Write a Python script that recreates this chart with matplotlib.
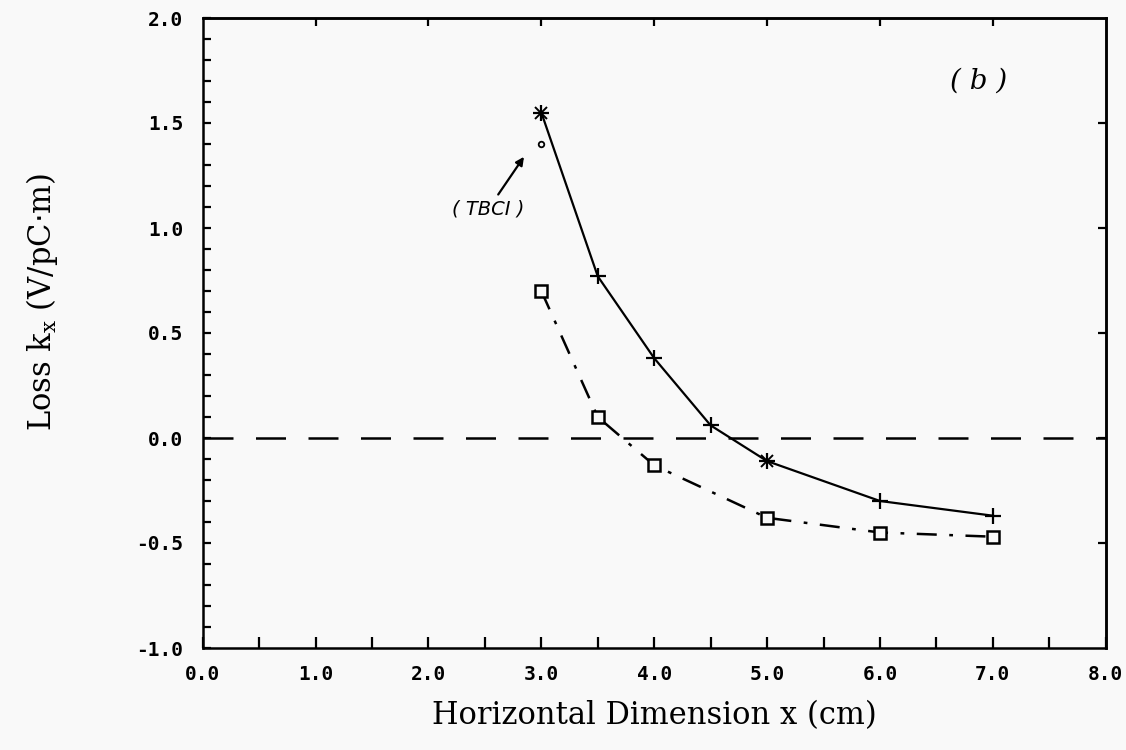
import matplotlib
matplotlib.use("Agg")
import matplotlib.pyplot as plt
import numpy as np

# loss curves
x_solid = [3.0, 3.5, 4.0, 4.5, 5.0, 6.0, 7.0]
y_solid = [1.55, 0.77, 0.38, 0.06, -0.11, -0.30, -0.37]
star_x = [3.0, 5.0]
star_y = [1.55, -0.11]

x_dd = [3.0, 3.5, 4.0, 5.0, 6.0, 7.0]
y_dd = [0.70, 0.10, -0.13, -0.38, -0.45, -0.47]

tbci_x = [3.0]
tbci_y = [1.40]

x_ticks = [0.0, 1.0, 2.0, 3.0, 4.0, 5.0, 6.0, 7.0, 8.0]
y_ticks = [-1.0, -0.5, 0.0, 0.5, 1.0, 1.5, 2.0]

bg = "#f9f9f9"
fig = plt.figure(figsize=(11.26, 7.5), dpi=100, facecolor=bg)
ax = fig.add_axes([0.180, 0.136, 0.802, 0.840], facecolor=bg)

ax.axhline(0.0, color="black", lw=1.8, linestyle=(0, (12, 9)))

ax.plot(x_solid, y_solid, color="black", lw=1.6, marker="+", ms=11, mew=1.6)
ax.plot(star_x, star_y, linestyle="none", color="black", marker="x", ms=8, mew=1.4)

ax.plot(x_dd, y_dd, color="black", lw=1.8, linestyle=(0, (8, 5, 1.5, 5)),
        marker="s", ms=9, mfc=bg, mec="black", mew=1.8)

ax.plot(tbci_x, tbci_y, linestyle="none", marker="o", ms=4, mfc=bg, mec="black", mew=1.3)
ax.annotate("( TBCI )", xy=(2.86, 1.35), xytext=(2.53, 1.09),
            ha="center", va="center", fontsize=14, style="italic", family="DejaVu Sans",
            arrowprops=dict(arrowstyle="-|>", color="black", lw=1.6, mutation_scale=12))

ax.text(6.87, 1.70, "( b )", fontsize=20, style="italic", family="DejaVu Serif",
        ha="center", va="center")

ax.set_xlim(0, 8)
ax.set_ylim(-1, 2)
ax.set_xticks(x_ticks)
ax.set_xticklabels([f"{v:.1f}" for v in x_ticks])
ax.set_yticks(y_ticks)
ax.set_yticklabels([f"{v:.1f}" for v in y_ticks])
ax.set_xticks(np.arange(0.5, 8, 1.0), minor=True)
ax.set_yticks(np.arange(-1.0, 2.0, 0.1), minor=True)

for lab in ax.get_xticklabels() + ax.get_yticklabels():
    lab.set_family("DejaVu Sans Mono")
    lab.set_fontweight("bold")
    lab.set_fontsize(14)

ax.tick_params(which="both", direction="in", width=1.6, top=False, right=False)
ax.tick_params(axis="x", which="both", length=8, pad=12)
ax.tick_params(axis="y", which="both", length=6, pad=14)

# top and right frame ticks
top = ax.secondary_xaxis("top")
top.set_xticks(x_ticks[1:-1])
top.tick_params(direction="in", length=6, width=1.6, labeltop=False)
right = ax.secondary_yaxis("right")
right.set_yticks(y_ticks[1:-1])
right.tick_params(direction="in", length=6, width=1.6, labelright=False)
for s in list(ax.spines.values()) + [top.spines["top"], right.spines["right"]]:
    s.set_linewidth(1.8)

ax.set_xlabel("Horizontal Dimension x (cm)", family="DejaVu Serif", fontsize=22, labelpad=12)
ax.set_ylabel(r"Loss k$_\mathregular{x}$ (V/pC$\cdot$m)", family="DejaVu Serif", fontsize=22)
ax.yaxis.set_label_coords(-0.158, 0.55)

fig.savefig("out.png", dpi=100, facecolor=bg)
